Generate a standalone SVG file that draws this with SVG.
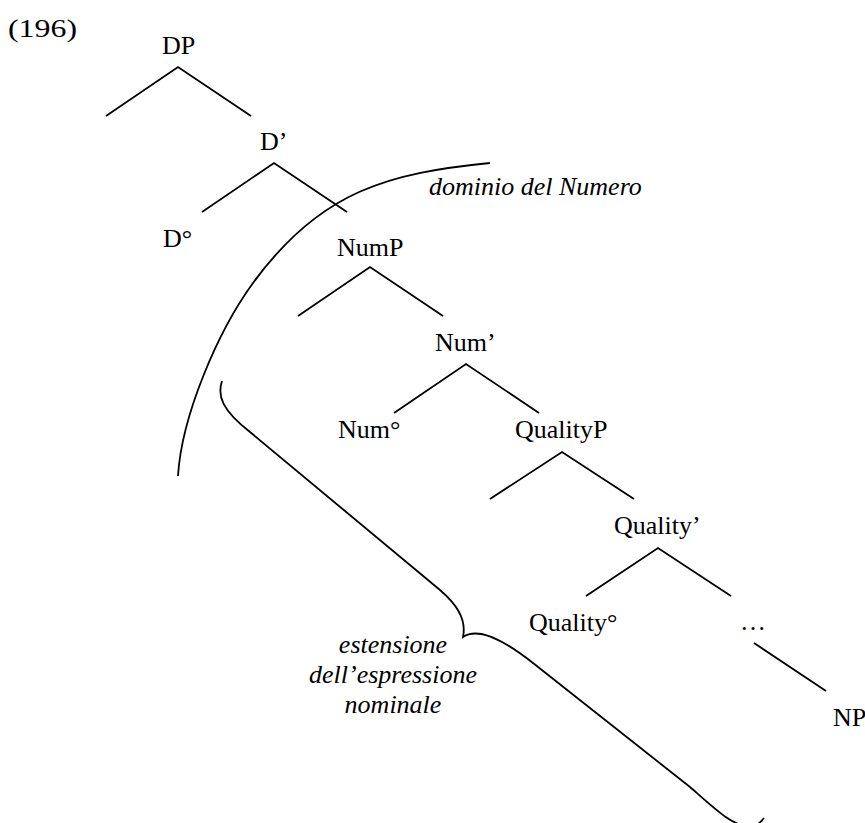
<svg xmlns="http://www.w3.org/2000/svg" width="865" height="823" viewBox="0 0 865 823">
  <style>
    .lbl { font-family: "Liberation Serif", "Times New Roman", serif; font-size: 26px; fill: #000; }
    .it { font-style: italic; }
    .edge { stroke: #000; stroke-width: 1.8; fill: none; stroke-linecap: butt; }
  </style>
  <rect width="865" height="823" fill="#fff"/>

  <text class="lbl" x="8" y="37" font-size="30" textLength="69" lengthAdjust="spacingAndGlyphs">(196)</text>

  <!-- tree nodes -->
  <g id="n-DP"><text class="lbl" x="162" y="54">DP</text></g>
  <g id="n-Dbar"><text class="lbl" x="260" y="150">D’</text></g>
  <g id="n-D0"><text class="lbl" x="163" y="247">D°</text></g>
  <g id="n-NumP"><text class="lbl" x="337" y="256">NumP</text></g>
  <g id="n-Numbar"><text class="lbl" x="435" y="351">Num’</text></g>
  <g id="n-Num0"><text class="lbl" x="338" y="438">Num°</text></g>
  <g id="n-QualityP"><text class="lbl" x="515" y="438">QualityP</text></g>
  <g id="n-Qualitybar"><text class="lbl" x="614" y="534">Quality’</text></g>
  <g id="n-Quality0"><text class="lbl" x="529" y="631">Quality°</text></g>
  <g id="n-dots"><text class="lbl" x="740" y="630">…</text></g>
  <g id="n-NP"><text class="lbl" x="833" y="726">NP</text></g>

  <!-- branches -->
  <g id="edges" class="edge">
    <polyline class="edge" points="106,116 178,67 251,116"/>
    <polyline class="edge" points="202,212 274,163 347,212"/>
    <polyline class="edge" points="298,316 370,267 443,316"/>
    <polyline class="edge" points="394,413 466,364 539,413"/>
    <polyline class="edge" points="490,499 562,452 634,499"/>
    <polyline class="edge" points="586,596 658,548 731,596"/>
    <line class="edge" x1="754" y1="643" x2="826" y2="691"/>
  </g>

  <!-- arc marking the number domain -->
  <g id="dominio">
    <path class="edge" d="M490,163 C390.5,173 320.9,189.8 253,283 C217.6,331.6 181.6,416 178,476"/>
    <text class="lbl it" x="429" y="195">dominio del Numero</text>
  </g>

  <!-- brace marking the extent of the nominal expression -->
  <g id="estensione">
    <path class="edge" d="M222,381 C217,396 222,410 250,432 L440,590 C455,603 467,618 463,637 C475,629 495,633 533,663 L690,787 C714,808 732,826 750,827 C756,827 760,823 764,818"/>
    <text class="lbl it" x="393" y="653" text-anchor="middle">estensione</text>
    <text class="lbl it" x="393" y="683" text-anchor="middle">dell’espressione</text>
    <text class="lbl it" x="393" y="713" text-anchor="middle">nominale</text>
  </g>
</svg>
